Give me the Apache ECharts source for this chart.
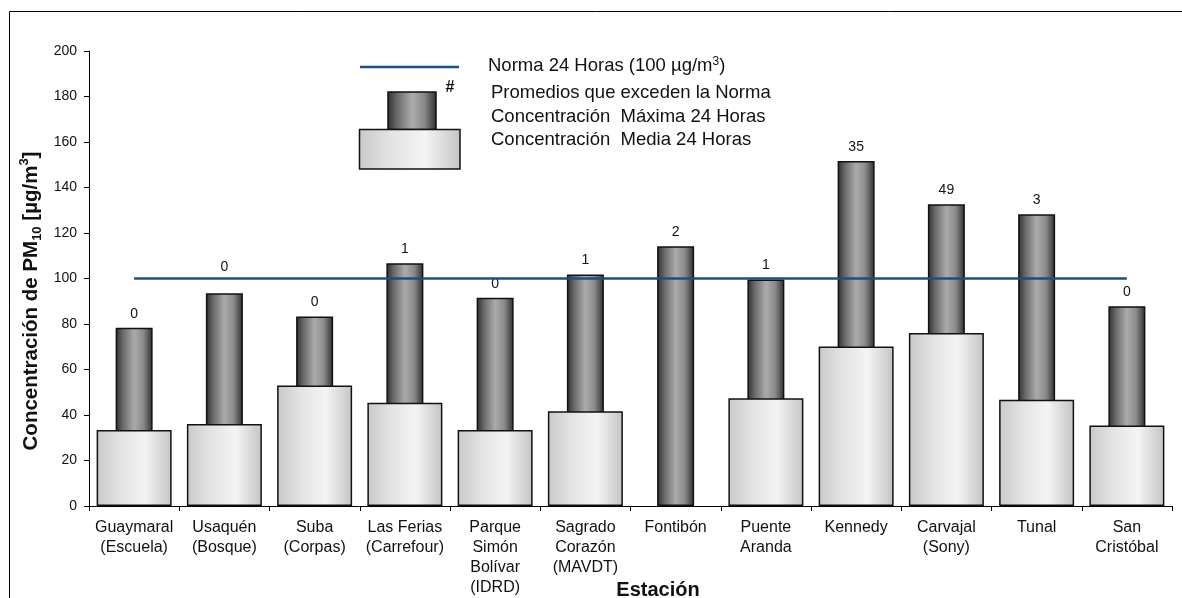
<!DOCTYPE html>
<html>
<head>
<meta charset="utf-8">
<script src="https://cdn.jsdelivr.net/npm/echarts@6/dist/echarts.min.js"></script>
<style>
html,body{margin:0;padding:0;background:#fff;}
#chart{width:1182px;height:598px;}
</style>
</head>
<body>
<div id="chart"></div>
<script>
var categories = ["Guaymaral\n(Escuela)", "Usaquén\n(Bosque)", "Suba\n(Corpas)", "Las Ferias\n(Carrefour)", "Parque\nSimón\nBolívar\n(IDRD)", "Sagrado\nCorazón\n(MAVDT)", "Fontibón", "Puente\nAranda", "Kennedy", "Carvajal\n(Sony)", "Tunal", "San\nCristóbal"];
var maxValues = [78.3, 93.5, 83.3, 106.7, 91.5, 101.8, 114.2, 99.6, 151.7, 132.6, 128.2, 87.8];
var meanValues = [33.4, 36.0, 53.0, 45.4, 33.4, 41.6, null, 47.4, 70.1, 76.0, 46.7, 35.4];
var exceedCounts = [0, 0, 0, 1, 0, 1, 2, 1, 35, 49, 3, 0];
var normaValue = 100;
var yTicks = [0, 200, 20]; // min, max, interval

var FONT = 'Arial, "Liberation Sans", sans-serif';
var darkGrad = new echarts.graphic.LinearGradient(0, 0, 1, 0, [
  {offset: 0, color: '#2e2e2e'},
  {offset: 0.2, color: '#6a6a6a'},
  {offset: 0.5, color: '#ababab'},
  {offset: 0.75, color: '#8a8a8a'},
  {offset: 1, color: '#2e2e2e'}
]);
var lightGrad = new echarts.graphic.LinearGradient(0, 0, 1, 0, [
  {offset: 0, color: '#c9c9c9'},
  {offset: 0.3, color: '#e2e2e2'},
  {offset: 0.65, color: '#f4f4f4'},
  {offset: 1, color: '#c4c4c4'}
]);

var maxData = maxValues.map(function (v, i) {
  var d = {value: v, label: {formatter: String(exceedCounts[i])}};
  if (i === 1) d.label.distance = 19;
  return d;
});
var meanData = meanValues.map(function (v) { return v == null ? '-' : v; });

var chart = echarts.init(document.getElementById('chart'));
chart.setOption({
  animation: false,
  backgroundColor: '#fff',
  textStyle: {fontFamily: FONT},
  grid: {left: 89, right: 10, top: 51, bottom: 91},
  xAxis: [{
    type: 'category',
    data: categories,
    axisLine: {lineStyle: {color: '#000', width: 1}},
    axisTick: {show: true, length: 5, lineStyle: {color: '#000'}},
    axisLabel: {interval: 0, fontSize: 16, lineHeight: 20, color: '#111', fontFamily: FONT, margin: 12}
  }, {
    type: 'category',
    data: categories,
    show: false
  }],
  yAxis: {
    type: 'value',
    min: yTicks[0], max: yTicks[1], interval: yTicks[2],
    splitLine: {show: false},
    axisLine: {show: true, lineStyle: {color: '#000', width: 1}},
    axisTick: {show: true, length: 5, lineStyle: {color: '#000'}},
    axisLabel: {fontSize: 14, color: '#111', fontFamily: FONT, margin: 12}
  },
  series: [{
    name: 'Concentración Máxima 24 Horas',
    type: 'bar',
    xAxisIndex: 1,
    barWidth: 37,
    z: 2,
    data: maxData,
    itemStyle: {color: darkGrad, borderColor: '#111', borderWidth: 1.5},
    label: {show: true, position: 'top', distance: 7, fontSize: 14, color: '#111', fontFamily: FONT}
  }, {
    name: 'Concentración Media 24 Horas',
    type: 'bar',
    xAxisIndex: 0,
    barWidth: 75,
    z: 3,
    data: meanData,
    itemStyle: {color: lightGrad, borderColor: '#111', borderWidth: 1.5}
  }, {
    name: 'Norma 24 Horas',
    type: 'line',
    xAxisIndex: 0,
    data: [],
    z: 5,
    markLine: {
      silent: true,
      symbol: ['none', 'none'],
      label: {show: false},
      lineStyle: {color: '#1f4e85', width: 2.5, type: 'solid'},
      data: [[{coord: [categories[0], normaValue]}, {coord: [categories[categories.length - 1], normaValue]}]]
    }
  }],
  graphic: [
    {type: 'rect', shape: {x: 9.5, y: 11.5, width: 1300, height: 700}, style: {fill: 'none', stroke: '#000', lineWidth: 1}, z: 0},
    {type: 'line', shape: {x1: 360, y1: 67, x2: 459, y2: 67}, style: {stroke: '#1f4e85', lineWidth: 2.5}, z: 10},
    {type: 'rect', shape: {x: 388, y: 92, width: 48, height: 37.5}, style: {fill: darkGrad, stroke: '#111', lineWidth: 1.5}, z: 10},
    {type: 'rect', shape: {x: 359.5, y: 129.5, width: 100.5, height: 39.5}, style: {fill: lightGrad, stroke: '#111', lineWidth: 1.5}, z: 10},
    {type: 'text', x: 450, y: 88, style: {text: '#', font: 'bold 16px ' + FONT, fill: '#111', align: 'center', verticalAlign: 'middle'}, z: 10},
    {type: 'text', x: 488, y: 66, style: {text: 'Norma 24 Horas (100 µg/m{sup|3})', font: '18.5px ' + FONT, fill: '#111', verticalAlign: 'middle',
      rich: {sup: {fontSize: 12, verticalAlign: 'top', lineHeight: 20, fontFamily: FONT}}}, z: 10},
    {type: 'text', x: 491, y: 93, style: {text: 'Promedios que exceden la Norma', font: '18.5px ' + FONT, fill: '#111', verticalAlign: 'middle'}, z: 10},
    {type: 'text', x: 491, y: 117, style: {text: 'Concentración  Máxima 24 Horas', font: '18.5px ' + FONT, fill: '#111', verticalAlign: 'middle'}, z: 10},
    {type: 'text', x: 491, y: 140, style: {text: 'Concentración  Media 24 Horas', font: '18.5px ' + FONT, fill: '#111', verticalAlign: 'middle'}, z: 10},
    {type: 'text', x: 31, y: 301, rotation: Math.PI / 2,
      style: {text: 'Concentración de PM{sub|10} [µg/m{sup|3}]', font: 'bold 20.5px ' + FONT, fill: '#111', align: 'center', verticalAlign: 'middle',
        rich: {
          sub: {fontSize: 13, fontWeight: 'bold', verticalAlign: 'bottom', lineHeight: 26, fontFamily: FONT},
          sup: {fontSize: 13, fontWeight: 'bold', verticalAlign: 'top', lineHeight: 26, fontFamily: FONT}
        }}, z: 10},
    {type: 'text', x: 658, y: 590, style: {text: 'Estación', font: 'bold 20px ' + FONT, fill: '#111', align: 'center', verticalAlign: 'middle'}, z: 10}
  ]
});
</script>
</body>
</html>
